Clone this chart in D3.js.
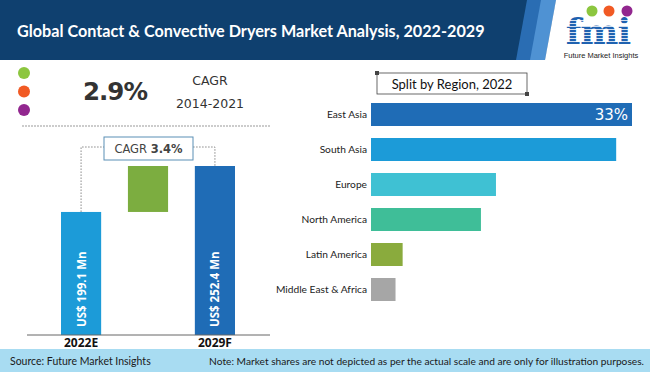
<!DOCTYPE html>
<html>
<head>
<meta charset="utf-8">
<script src="https://cdn.jsdelivr.net/npm/d3@7"></script>
<style>
  html, body { margin: 0; padding: 0; background: #fff; }
  svg { display: block; }
</style>
</head>
<body>
<div id="chart"></div>
<script>
// data
const marketYears = ["2022E", "2029F"];
const marketValues = [199.1, 252.4];
const marketLabels = ["US$ 199.1 Mn", "US$ 252.4 Mn"];
const cagrForecast = "3.4%";
const cagrHistoric = "2.9%";
const cagrHistoricPeriod = "2014-2021";

const regions = ["East Asia", "South Asia", "Europe", "North America", "Latin America", "Middle East & Africa"];
const regionShares = [33, 31, 15.8, 13.9, 4, 3.1];
const regionColors = ["#1f6cb6", "#1c9bd8", "#3fc1d3", "#3fbe98", "#8aab3d", "#a6a6a6"];

const W = 650, H = 372;

const svg = d3.select("#chart")
    .append("svg")
    .attr("width", W)
    .attr("height", H);

// header band
svg.append("rect")
    .attr("width", W).attr("height", 60)
    .attr("fill", "#0f406f");
svg.append("polygon")
    .attr("points", "527,0 556,0 545,60 516,60")
    .attr("fill", "#2a6db3");
svg.append("polygon")
    .attr("points", "541,0 556,0 545,60 530,60")
    .attr("fill", "#4f92d3");
svg.append("polygon")
    .attr("points", "556,0 650,0 650,60 545,60")
    .attr("fill", "#fff");

svg.append("text")
    .attr("x", 17).attr("y", 37)
    .style("font-family", "Lato, sans-serif")
    .style("font-weight", "bold")
    .style("font-size", "16.2px")
    .style("fill", "#fff")
    .text("Global Contact & Convective Dryers Market Analysis, 2022-2029");

// logo
const logo = svg.append("g");
const logoDots = [["#8cc63f", 592], ["#f15a24", 609], ["#92278f", 627]];
logo.selectAll("circle").data(logoDots).join("circle")
    .attr("cx", d => d[1]).attr("cy", 11).attr("r", 5.5)
    .attr("fill", d => d[0]);
logo.append("text")
    .attr("x", 598).attr("y", 44)
    .attr("text-anchor", "middle")
    .style("font-family", "'DejaVu Serif', serif")
    .style("font-weight", "bold")
    .style("font-size", "36px")
    .style("letter-spacing", "-1px")
    .style("fill", "#1f62b0")
    .text("fmi");
for (let yy = 20; yy < 45; yy += 3) {
    logo.append("rect")
        .attr("x", 556).attr("y", yy).attr("width", 86).attr("height", 0.8)
        .attr("fill", "#fff");
}
logo.append("text")
    .attr("x", 601).attr("y", 58)
    .attr("text-anchor", "middle")
    .style("font-family", "'Liberation Sans', Arial, sans-serif")
    .style("font-size", "7.5px")
    .style("fill", "#222")
    .text("Future Market Insights");

// historic CAGR block
const dotColors = ["#8cc63f", "#f15a24", "#92278f"];
svg.selectAll(".kdot").data(dotColors).join("circle")
    .attr("class", "kdot")
    .attr("cx", 24)
    .attr("cy", (d, i) => 73 + i * 18.5)
    .attr("r", 6)
    .attr("fill", d => d);

svg.append("text")
    .attr("x", 83).attr("y", 100)
    .style("font-family", "'DejaVu Sans', sans-serif")
    .style("font-weight", "bold")
    .style("font-size", "24.5px")
    .style("letter-spacing", "-1px")
    .style("fill", "#333")
    .text(cagrHistoric);
svg.append("text")
    .attr("x", 210).attr("y", 85)
    .attr("text-anchor", "middle")
    .style("font-family", "'DejaVu Sans', sans-serif")
    .style("font-size", "12.5px")
    .style("fill", "#333")
    .text("CAGR");
svg.append("text")
    .attr("x", 210).attr("y", 108)
    .attr("text-anchor", "middle")
    .style("font-family", "'DejaVu Sans', sans-serif")
    .style("font-size", "12.5px")
    .style("fill", "#333")
    .text(cagrHistoricPeriod);
svg.append("line")
    .attr("x1", 22).attr("x2", 270).attr("y1", 126).attr("y2", 126)
    .attr("stroke", "#999").attr("stroke-dasharray", "2,1");

// left: market value bars
const steps = ["2022E", "growth", "2029F"];
const xL = d3.scaleBand().domain(steps).range([61, 235]).paddingInner(0.4).paddingOuter(0);
const yL = d3.scaleLinear().domain([56.4, 252.4]).range([335, 166]);

const stepBars = [
    { key: "2022E", y0: yL.domain()[0], y1: marketValues[0], color: "#1c9bd8" },
    { key: "growth", y0: marketValues[0], y1: marketValues[1], color: "#7cad40" },
    { key: "2029F", y0: yL.domain()[0], y1: marketValues[1], color: "#1f6cb6" }
];

const left = svg.append("g");

// dotted connector
const c1 = xL("2022E") + xL.bandwidth() / 2;
const c2 = xL("2029F") + xL.bandwidth() / 2;
left.append("path")
    .attr("d", `M${c1},${yL(marketValues[0])} V147 H${c2} V${yL(marketValues[1])}`)
    .attr("fill", "none")
    .attr("stroke", "#888")
    .attr("stroke-width", 1)
    .attr("stroke-dasharray", "1.5,1.5");

left.append("rect")
    .attr("x", 104).attr("y", 137).attr("width", 89).attr("height", 23)
    .attr("fill", "#fff").attr("stroke", "#5b8fb5").attr("stroke-width", 1);
const cagrText = left.append("text")
    .attr("x", 148.5).attr("y", 153)
    .attr("text-anchor", "middle")
    .style("font-family", "'DejaVu Sans', sans-serif")
    .style("font-size", "11.5px")
    .style("fill", "#444");
cagrText.append("tspan").text("CAGR ");
cagrText.append("tspan").style("font-weight", "bold").text(cagrForecast);

left.selectAll(".vbar").data(stepBars).join("rect")
    .attr("class", "vbar")
    .attr("x", d => xL(d.key))
    .attr("width", xL.bandwidth())
    .attr("y", d => yL(d.y1))
    .attr("height", d => yL(d.y0) - yL(d.y1))
    .attr("fill", d => d.color);

left.append("line")
    .attr("x1", 27).attr("x2", 270)
    .attr("y1", yL.range()[0]).attr("y2", yL.range()[0])
    .attr("stroke", "#666").attr("stroke-width", 1);

marketYears.forEach((yr, i) => {
    const cx = xL(yr) + xL.bandwidth() / 2;
    left.append("text")
        .attr("transform", `translate(${cx + 4.5},327) rotate(-90)`)
        .style("font-family", "'Open Sans', sans-serif")
        .style("font-weight", "bold")
        .style("font-size", "11.5px")
        .style("fill", "#fff")
        .text(marketLabels[i]);
    left.append("text")
        .attr("x", cx).attr("y", 347)
        .attr("text-anchor", "middle")
        .style("font-family", "'Open Sans', sans-serif")
        .style("font-weight", "bold")
        .style("font-size", "12px")
        .style("fill", "#111")
        .text(yr);
});

// right: split by region
const right = svg.append("g");
right.append("rect")
    .attr("x", 377).attr("y", 73).attr("width", 150).attr("height", 21)
    .attr("fill", "#fff").attr("stroke", "#444").attr("stroke-width", 0.8);
right.append("rect").attr("x", 375).attr("y", 71).attr("width", 4).attr("height", 4).attr("fill", "#444");
right.append("rect").attr("x", 525).attr("y", 92).attr("width", 4).attr("height", 4).attr("fill", "#444");
right.append("text")
    .attr("x", 452).attr("y", 88.5)
    .attr("text-anchor", "middle")
    .style("font-family", "Lato, sans-serif")
    .style("font-size", "13px")
    .style("fill", "#111")
    .text("Split by Region, 2022");

const yR = d3.scaleBand().domain(regions).range([103, 301]).paddingInner(0.343).paddingOuter(0);
const xR = d3.scaleLinear().domain([0, 33]).range([371, 632]);

right.selectAll(".hbar").data(regions).join("rect")
    .attr("class", "hbar")
    .attr("x", xR(0))
    .attr("y", d => yR(d))
    .attr("width", (d, i) => xR(regionShares[i]) - xR(0))
    .attr("height", yR.bandwidth())
    .attr("fill", (d, i) => regionColors[i]);

const yAxisR = right.append("g")
    .attr("transform", `translate(${xR(0)},0)`)
    .call(d3.axisLeft(yR).tickSize(0).tickPadding(4));
yAxisR.select(".domain").remove();
yAxisR.selectAll("text")
    .style("font-family", "Lato, sans-serif")
    .style("font-size", "10.2px")
    .style("fill", "#222");

right.append("text")
    .attr("x", xR(regionShares[0]) - 4)
    .attr("y", yR(regions[0]) + yR.bandwidth() / 2 + 5.5)
    .attr("text-anchor", "end")
    .style("font-family", "'DejaVu Sans', sans-serif")
    .style("font-size", "15px")
    .style("fill", "#fff")
    .text(regionShares[0] + "%");

// footer
svg.append("rect")
    .attr("x", 0).attr("y", 349).attr("width", W).attr("height", H - 349)
    .attr("fill", "#a8dcf2");
svg.append("text")
    .attr("x", 10).attr("y", 364.5)
    .style("font-family", "Lato, sans-serif")
    .style("font-size", "10.5px")
    .style("fill", "#1a1a1a")
    .text("Source: Future Market Insights");
svg.append("text")
    .attr("x", 644).attr("y", 364.5)
    .attr("text-anchor", "end")
    .style("font-family", "Lato, sans-serif")
    .style("font-size", "10.2px")
    .style("fill", "#1a1a1a")
    .text("Note: Market shares are not depicted as per the actual scale and are only for illustration purposes.");
</script>
</body>
</html>
